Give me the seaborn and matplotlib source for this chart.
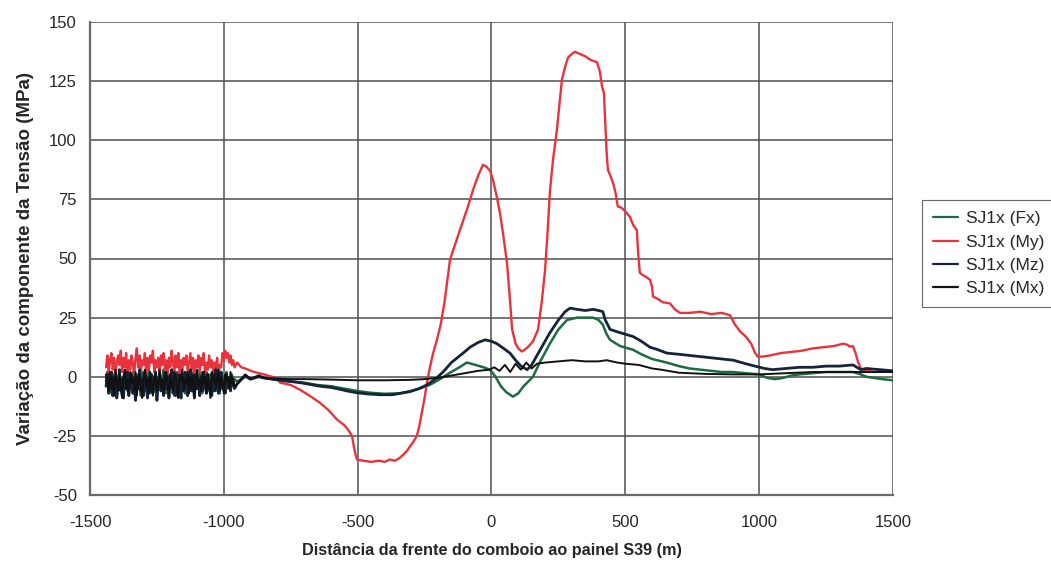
import numpy as np
import pandas as pd
import seaborn as sns
import matplotlib
matplotlib.use("Agg")
import matplotlib.pyplot as plt

# sampling positions of the noisy stretch at the start of the record (m)
x_noise = [-1440, -1435, -1430, -1425, -1420, -1415, -1410, -1405, -1400, -1395,
           -1390, -1385, -1380, -1375, -1370, -1365, -1360, -1355, -1350, -1345,
           -1340, -1335, -1330, -1325, -1320, -1315, -1310, -1305, -1300, -1295,
           -1290, -1285, -1280, -1275, -1270, -1265, -1260, -1255, -1250, -1245,
           -1240, -1235, -1230, -1225, -1220, -1215, -1210, -1205, -1200, -1195,
           -1190, -1185, -1180, -1175, -1170, -1165, -1160, -1155, -1150, -1145,
           -1140, -1135, -1130, -1125, -1120, -1115, -1110, -1105, -1100, -1095,
           -1090, -1085, -1080, -1075, -1070, -1065, -1060, -1055, -1050, -1045,
           -1040, -1035, -1030, -1025, -1020, -1015, -1010, -1005, -1000, -995,
           -990, -985, -980, -975, -970, -965, -960]

fx_noise = [-2, 2, -5, 0, -7, 1, -3, 3, -6, -1,
            2, -4, -8, 0, -2, 3, -6, 1, -5, -1,
            2, -7, -3, 1, -5, 0, -8, 2, -2, -6,
            1, -4, 3, -7, -1, 0, -5, 2, -8, -3,
            1, -6, 0, 3, -4, -7, 2, -2, -5, 1,
            -3, -8, 0, 2, -6, -1, 3, -5, -2, -7,
            1, -4, 0, -6, 2, -3, -8, 1, -1, -5,
            3, -2, -7, 0, -4, 2, -6, -1, 1, -5,
            -3, 2, -6, 0, -2, -7, 1, -4, 0, -3,
            2, -5, -1, -3, 1, -4, -1]
my_noise = [4, 9, 2, 7, 10, 3, 8, 1, 6, 9,
            5, 11, 2, 8, 4, 10, 1, 7, 3, 9,
            6, 0, 8, 12, 4, 9, 2, 7, 5, 10,
            1, 8, 3, 9, 6, 11, 2, 7, 4, 8,
            0, 9, 5, 10, 3, 7, 1, 8, 4, 11,
            6, 2, 9, 4, 10, 1, 7, 3, 8, 5,
            9, 2, 6, 10, 3, 8, 0, 7, 4, 9,
            2, 8, 5, 10, 1, 6, 3, 9, 4, 7,
            2, 6, 3, 8, 1, 5, 4, 10, 7, 11,
            8, 10, 6, 9, 5, 7, 4]
mz_noise = [-4, 1, -7, -2, 2, -8, -3, 0, -9, -4,
            3, -6, -1, -9, 0, -5, 2, -8, -3, 1,
            -7, -2, -10, 0, -5, 3, -6, -1, -8, 2,
            -4, -9, 0, -6, 1, -7, -3, 2, -10, -2,
            1, -6, -3, -8, 2, -5, 0, -9, -1, 3,
            -7, -2, -8, 1, -5, -3, -9, 0, -6, 2,
            -4, -8, -1, 3, -6, -2, -9, 1, -5, -3,
            -8, 0, -6, 2, -4, -7, 1, -5, -2, -8,
            0, -6, 3, -3, -7, -1, 2, -5, -2, -7,
            1, -4, -2, -6, 0, -3, -5]
mx_noise = [1, -3, -6, 2, -5, 0, -8, 3, -2, -6,
            1, -4, -9, 0, 3, -5, -1, -7, 2, -3,
            0, -6, 2, -8, -2, 1, -5, -9, 0, 3,
            -4, -1, -7, 2, -3, -8, 0, 1, -6, -2,
            3, -5, -1, -7, 0, 2, -4, -8, 1, -3,
            -6, 2, 0, -5, -9, 1, -2, 3, -6, -1,
            -3, 2, -7, 0, -5, 1, -8, -2, 3, -4,
            -1, -6, 2, -3, 0, -7, 1, -4, -9, 2,
            -2, 1, -5, -1, 3, -6, 0, -3, -7, 1,
            -2, 0, -5, 2, -3, -1, -4]

# SJ1x (Fx)
fx_x = [-950, -920, -900, -870, -850, -820, -789, -750, -700, -650, -600, -550, -502,
        -450, -400, -342, -300, -270, -230, -200, -155, -120, -92, -60, -30, -6, 15,
        35, 55, 80, 100, 120, 155, 180, 218, 250, 282, 320, 379, 400, 416, 430, 443,
        480, 529, 560, 600, 655, 700, 740, 779, 820, 860, 900, 950, 1000, 1030, 1060,
        1089, 1120, 1150, 1200, 1250, 1300, 1350, 1380, 1400, 1430, 1460, 1500]
fx_y = [-2, 0, -1, 0.5, -0.5, -1, -1.5, -2, -2.5, -3.5, -4, -5, -6,
        -6.8, -7.2, -7, -6, -5, -3.4, -1.5, 1.7, 4, 6, 5, 4, 3, 0,
        -4, -6.5, -8.4, -7, -4, 0, 6, 14, 20, 24, 25, 25, 24, 22, 18, 15.6,
        13, 11.4, 9.5, 7.5, 6, 4.5, 3.5, 3, 2.5, 2, 2, 1.5, 1, -0.5, -1,
        -0.5, 0.5, 1, 1.5, 2, 2, 2, 1, 0, -0.5, -1, -1.5]

# SJ1x (My)
my_x = [-950, -935, -920, -900, -870, -850, -820, -800, -789, -750, -715, -680, -641,
        -610, -578, -550, -536, -521, -515, -508, -502, -480, -450, -420, -400, -380,
        -360, -345, -330, -317, -305, -292, -279, -270, -260, -250, -241, -230, -218,
        -204, -190, -175, -155, -130, -106, -88, -69, -50, -32, -20, -5, 6, 20, 32,
        45, 58, 68, 77, 90, 100, 113, 125, 140, 155, 174, 188, 200, 210, 218, 230,
        244, 263, 275, 286, 300, 312, 330, 350, 370, 394, 405, 413, 420, 424, 430,
        435, 444, 454, 463, 472, 485, 500, 517, 530, 543, 548, 554, 565, 580, 592,
        600, 603, 620, 640, 667, 685, 704, 740, 780, 820, 860, 891, 910, 930, 950,
        970, 985, 995, 1010, 1040, 1080, 1120, 1160, 1200, 1240, 1280, 1313, 1330,
        1339, 1350, 1360, 1370, 1380, 1400, 1430, 1460, 1500]
my_y = [6, 4, 3.5, 2.5, 1.5, 1, 0, -1, -2.5, -3.5, -5.5, -8, -11,
        -14, -18, -20.5, -22.4, -25, -29, -33, -35, -35.5, -36, -35.5, -36, -35,
        -35.5, -34.5, -33, -31.5, -29.6, -27.5, -25, -21, -15, -9, -2.5, 4, 10,
        15.6, 22, 32, 49.5, 58, 66, 72, 79, 85, 89.6, 89, 87, 83, 76, 69,
        59, 48, 34, 20, 14, 12, 10.7, 11.5, 13, 15, 20, 32, 45, 62, 78, 92,
        104, 125.6, 131, 135, 136.5, 137.4, 136.5, 135.5, 134, 133, 129, 122.6, 120, 110, 95,
        87.5, 85, 82, 78, 72, 71.5, 70, 67.6, 64, 62, 52, 44, 43, 42, 41,
        38, 34, 33, 31.5, 31, 28.5, 27, 27, 27.5, 26.5, 27, 26, 22, 19, 17,
        14, 10, 8.5, 8.5, 9, 10, 10.5, 11, 12, 12.5, 13, 14, 13.5,
        12.7, 13, 10, 6, 3.5, 2.5, 2, 2.5, 2]

# SJ1x (Mz)
mz_x = [-950, -920, -900, -870, -850, -820, -789, -750, -715, -680, -641, -600, -578,
        -540, -502, -460, -416, -370, -340, -305, -270, -241, -210, -181, -150, -106,
        -80, -50, -24, 0, 20, 45, 69, 90, 110, 133, 150, 175, 200, 218, 250, 275, 293,
        320, 350, 380, 400, 416, 425, 443, 470, 500, 529, 560, 592, 620, 655, 700, 740,
        779, 820, 860, 903, 950, 991, 1020, 1050, 1100, 1150, 1200, 1250, 1300, 1350,
        1380, 1400, 1450, 1500]
mz_y = [-3, 0.5, -1, 0, -0.5, -1, -1.5, -2, -2.5, -3.2, -4, -4.5, -5,
        -6, -6.8, -7.3, -7.6, -7.6, -7, -6.3, -5, -3.4, -1, 2, 6, 10,
        12.5, 14.5, 15.6, 15, 14, 12, 10, 7, 4.5, 3, 5, 10, 15, 18.6, 24, 27.5, 29,
        28.5, 28, 28.5, 28, 27.5, 24, 20, 19, 18, 17, 15, 12.5, 11.5, 10, 9.5, 9,
        8.5, 8, 7.5, 7, 5.5, 4.3, 3.5, 3, 3.5, 4, 4, 4.5, 4.5, 5,
        3, 3.5, 3, 2.5]

# SJ1x (Mx)
mx_x = [-950, -920, -900, -870, -850, -800, -750, -700, -600, -500, -400, -300, -250,
        -200, -150, -100, -50, -6, 10, 30, 50, 70, 90, 110, 130, 150, 170, 200, 250,
        300, 350, 400, 430, 470, 500, 550, 600, 633, 700, 800, 900, 1000, 1100, 1200,
        1300, 1400, 1500]
mx_y = [-3, 1, -1, 0.5, -0.5, -0.8, -1, -1, -1.2, -1.5, -1.5, -1.3, -1,
        -0.5, 0.5, 1.5, 2.5, 3, 4, 2.5, 5, 2, 5.5, 3, 6, 3.5, 5.5, 6, 6.5,
        7, 6.5, 6.5, 7, 6, 5.5, 5, 3.5, 3, 1.7, 1.2, 1, 1, 1.5, 2,
        2, 2, 2]

labels = ["SJ1x (Fx)", "SJ1x (My)", "SJ1x (Mz)", "SJ1x (Mx)"]
colors = ["#1d6b40", "#e8333c", "#15243a", "#111111"]
widths = [1.8, 1.7, 2.0, 1.4]

series = [(x_noise + fx_x, fx_noise + fx_y),
          (x_noise + my_x, my_noise + my_y),
          (x_noise + mz_x, mz_noise + mz_y),
          (x_noise + mx_x, mx_noise + mx_y)]

sns.set_style("white")
plt.rcParams['font.family'] = ['Liberation Sans', 'DejaVu Sans']
plt.rcParams['axes.unicode_minus'] = False

fig = plt.figure(figsize=(10.51, 5.63), dpi=100)
ax = fig.add_axes([90 / 1051, 1 - 495 / 563, (893 - 90) / 1051, (495 - 22) / 563])

handles = []
for (xs, ys), lab, col, lw in zip(series, labels, colors, widths):
    df = pd.DataFrame({"x": xs, "y": ys})
    sns.lineplot(data=df, x="x", y="y", ax=ax, color=col, linewidth=lw,
                 estimator=None, sort=False, legend=False)
    handles.append(plt.Line2D([], [], color=col, linewidth=1.6, label=lab))

ax.set_xlim(-1500, 1500)
ax.set_ylim(-50, 150)
ax.set_xticks(np.arange(-1500, 1501, 500))
ax.set_yticks(np.arange(-50, 151, 25))
ax.grid(True, color="#505050", linewidth=1.1)
ax.set_axisbelow(True)
for side in ["top", "right"]:
    ax.spines[side].set_visible(False)
for side in ["left", "bottom"]:
    ax.spines[side].set_color("#6a6a6a")
    ax.spines[side].set_linewidth(1.6)
ax.tick_params(axis="both", direction="inout", length=7, width=1.1, color="#6a6a6a",
               labelsize=12)
ax.tick_params(axis="x", pad=11)
ax.tick_params(axis="y", pad=6)

ax.set_xlabel("Distância da frente do comboio ao painel S39 (m)", fontsize=11.7,
              fontweight="bold", labelpad=9)
ax.set_ylabel("Variação da componente da Tensão (MPa)", fontsize=13.5,
              fontweight="bold", labelpad=11)

# legend sits at the right edge, its frame runs past the figure like in the source
leg = fig.legend(handles=handles, loc="upper left", bbox_to_anchor=(922 / 1051, 1 - 200 / 563),
                 borderaxespad=0, frameon=True, fancybox=False, fontsize=12.5,
                 handlelength=1.4, handletextpad=0.5, labelspacing=0.46, borderpad=0.65)
leg.get_frame().set_edgecolor("#444444")
leg.get_frame().set_linewidth(0.8)

fig.savefig("out.png", dpi=100)
